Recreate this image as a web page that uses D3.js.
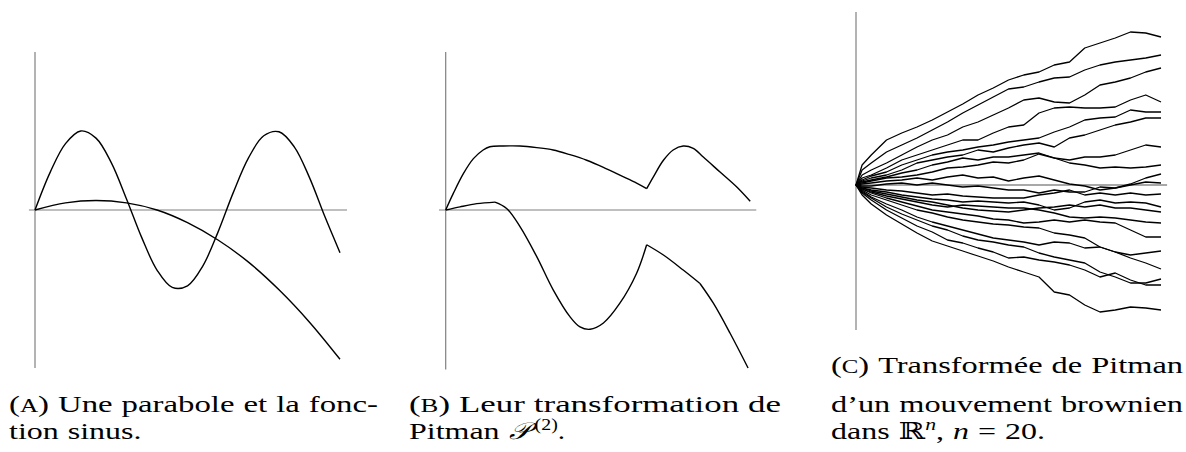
<!DOCTYPE html>
<html lang="fr">
<head>
<meta charset="UTF-8">
<title>Transformation de Pitman</title>
<script src="https://d3js.org/d3.v7.min.js"></script>
<style>
    body { margin: 0; background: #fff; }
    svg { display: block; }
    .axis-line { stroke: #808080; stroke-width: 1.2px; }
    .axis-light { stroke: #a8a8a8; stroke-width: 2px; }
    .curve { fill: none; stroke: #000; stroke-width: 1.4px; stroke-linejoin: round; }
    .bm { fill: none; stroke: #000; stroke-width: 1.3px; stroke-linejoin: round; }
    .caption { font-family: "Liberation Serif", "DejaVu Serif", serif; font-size: 23.5px; fill: #000; }
</style>
</head>
<body>
<svg id="fig" width="1186" height="452"></svg>
<script>
    // (A) sine and parabola
    const sineT = [0, 0.5, 1, 1.5, 2, 2.5, 3, 3.5, 4, 4.5, 5, 5.5, 6, 6.5, 7, 7.5, 8, 8.5, 9, 9.5, 10];
    const sineV = [0, 0.48, 0.84, 1.0, 0.91, 0.6, 0.14, -0.35, -0.76, -0.98, -0.96, -0.71, -0.28, 0.22, 0.66, 0.94, 0.99, 0.8, 0.41, -0.08, -0.54];
    const parabT = [0, 1, 2, 3, 4, 5, 6, 7, 8, 9, 10];
    const parabV = [0, 0.09, 0.12, 0.09, 0, -0.16, -0.38, -0.66, -1.01, -1.42, -1.89];

    // (B) Pitman transform of the two curves
    const upperT = [0, 0.25, 0.58, 0.91, 1.23, 1.45, 1.89, 2.44, 2.99, 3.53, 4.08, 4.63, 5.18, 5.72, 6.27, 6.6,
                    6.82, 7.15, 7.47, 7.8, 8.13, 8.46, 9.01, 9.56, 10];
    const upperV = [0, 0.21, 0.46, 0.65, 0.76, 0.8, 0.81, 0.81, 0.79, 0.76, 0.7, 0.63, 0.54, 0.44, 0.34, 0.27,
                    0.42, 0.63, 0.76, 0.81, 0.78, 0.67, 0.48, 0.29, 0.11];
    const upperKinks = [6.6];
    const lowerT = [0, 0.47, 1.02, 1.62, 2.0, 2.44, 2.99, 3.53, 4.08, 4.41, 4.74, 5.18, 5.72, 6.27, 6.6,
                    7.15, 7.8, 8.35, 8.79, 9.34, 9.93];
    const lowerV = [0, 0.04, 0.08, 0.1, 0.02, -0.21, -0.59, -1.01, -1.35, -1.48, -1.51, -1.43, -1.18, -0.8, -0.44,
                    -0.57, -0.76, -0.93, -1.18, -1.56, -2.0];
    const lowerKinks = [1.62, 6.6, 8.35];

    // (C) 20 paths, sampled at brownT
    const brownT = [0, 0.02, 0.05, 0.1, 0.15, 0.2, 0.25, 0.3, 0.35, 0.4, 0.45, 0.5, 0.55, 0.6, 0.65, 0.7, 0.75, 0.8, 0.85, 0.9, 0.95, 1];
    const brownPaths = [
        [0, .20, .30, .45, .52, .58, .65, .73, .81, .90, .97, 1.05, 1.10, 1.13, 1.20, 1.23, 1.37, 1.42, 1.47, 1.53, 1.52, 1.48],
        [0, .15, .22, .33, .40, .47, .55, .63, .72, .80, .88, .96, .98, 1.03, 1.07, 1.08, 1.15, 1.20, 1.23, 1.25, 1.27, 1.30],
        [0, .10, .15, .22, .30, .38, .45, .50, .58, .63, .70, .77, .85, .87, .83, .82, .90, 1.00, 1.03, 1.07, 1.13, 1.17],
        [0, .07, .10, .17, .25, .30, .35, .40, .45, .45, .52, .58, .60, .72, .77, .78, .77, .77, .78, .85, .90, .83],
        [0, .05, .09, .13, .20, .25, .30, .33, .35, .38, .40, .43, .45, .47, .53, .58, .65, .67, .68, .75, .73, .73],
        [0, .04, .07, .10, .15, .22, .25, .28, .30, .35, .33, .37, .40, .42, .38, .47, .50, .55, .60, .63, .67, .67],
        [0, .03, .05, .08, .12, .15, .20, .23, .27, .25, .28, .28, .30, .32, .27, .25, .28, .28, .30, .35, .40, .38],
        [0, .02, .04, .07, .08, .10, .13, .17, .18, .20, .23, .22, .25, .31, .27, .22, .20, .17, .18, .17, .18, .20],
        [0, .01, .02, .04, .05, .07, .05, .08, .10, .07, .08, .04, .07, .09, .05, .01, -.01, -.05, -.03, .01, .07, .11],
        [0, -.01, -.01, .01, .02, 0, .02, 0, -.02, -.01, -.03, -.05, -.05, -.08, -.05, -.07, -.07, -.02, -.03, 0, .03, .02],
        [0, -.02, -.03, -.05, -.06, -.08, -.10, -.09, -.11, -.12, -.13, -.13, -.13, -.10, -.08, -.05, -.10, -.08, -.10, -.08, -.10, -.09],
        [0, -.03, -.05, -.07, -.10, -.12, -.14, -.15, -.17, -.16, -.17, -.18, -.17, -.20, -.25, -.23, -.17, -.15, -.18, -.17, -.18, -.22],
        [0, -.03, -.06, -.09, -.12, -.15, -.17, -.20, -.23, -.25, -.26, -.27, -.25, -.23, -.22, -.20, -.22, -.20, -.23, -.23, -.25, -.27],
        [0, -.04, -.07, -.11, -.14, -.17, -.20, -.22, -.20, -.21, -.22, -.23, -.23, -.25, -.28, -.32, -.33, -.32, -.33, -.35, -.37, -.38],
        [0, -.04, -.08, -.13, -.17, -.21, -.25, -.27, -.29, -.31, -.34, -.35, -.38, -.37, -.35, -.37, -.35, -.37, -.38, -.45, -.52, -.52],
        [0, -.05, -.10, -.15, -.20, -.25, -.28, -.32, -.35, -.37, -.39, -.40, -.42, -.43, -.48, -.50, -.53, -.62, -.67, -.70, -.68, -.66],
        [0, -.06, -.12, -.19, -.25, -.32, -.37, -.41, -.45, -.49, -.53, -.55, -.57, -.60, -.57, -.58, -.63, -.62, -.67, -.73, -.78, -.84],
        [0, -.07, -.13, -.22, -.29, -.35, -.41, -.45, -.51, -.55, -.57, -.60, -.62, -.68, -.72, -.75, -.78, -.87, -.92, -.98, -.98, -.94],
        [0, -.08, -.15, -.25, -.33, -.41, -.47, -.55, -.58, -.63, -.67, -.73, -.72, -.75, -.77, -.80, -.85, -.92, -.88, -.95, -1.00, -1.00],
        [0, -.10, -.19, -.30, -.39, -.48, -.56, -.61, -.66, -.71, -.76, -.82, -.87, -.92, -1.07, -1.10, -1.20, -1.27, -1.25, -1.22, -1.23, -1.25]
    ];

    // captions: a word is a string or a list of [text, style] runs
    const captionA = [
        [[["("], ["A", "sc"], [")"]], "Une", "parabole", "et", "la", "fonc-"],
        ["tion", "sinus."]
    ];
    const captionB = [
        [[["("], ["B", "sc"], [")"]], "Leur", "transformation", "de"],
        ["Pitman", [["\u{1D4AB}", "script"], ["(2)", "sup"], ["."]]]
    ];
    const captionC = [
        [[["("], ["C", "sc"], [")"]], "Transformée", "de", "Pitman"],
        ["d’un", "mouvement", "brownien"],
        ["dans", [["ℝ"], ["n", "itsup"], [","]], [["n", "it"]], "=", "20."]
    ];

    const svg = d3.select("#fig");

    // scales
    const xA = d3.scaleLinear().domain([0, 10]).range([35, 340]);
    const xB = d3.scaleLinear().domain([0, 10]).range([445.7, 750.2]);
    const yAB = d3.scaleLinear().domain([-2, 2]).range([368, 52]);
    const xC = d3.scaleLinear().domain([0, 1]).range([856, 1161]);
    const yC = d3.scaleLinear().domain([-1.45, 1.73]).range([330, 12]);

    function axes(x, y, xMin, xMax, yMin, yMax, hClass) {
        svg.append("line").attr("class", "axis-line")
            .attr("x1", x(0)).attr("x2", x(0)).attr("y1", y(yMax)).attr("y2", y(yMin));
        svg.append("line").attr("class", hClass)
            .attr("x1", x(xMin)).attr("x2", x(xMax)).attr("y1", y(0)).attr("y2", y(0));
    }
    axes(xA, yAB, -0.2, 10.23, -2, 2, "axis-line");
    axes(xB, yAB, -0.22, 10.2, -2.02, 2, "axis-line");
    axes(xC, yC, -0.003, 1.02, -1.45, 1.73, "axis-light");

    // split a curve into smooth pieces at its corners
    function pieces(ts, vs, kinks) {
        const segs = [];
        let cur = [];
        ts.forEach((t, i) => {
            cur.push([t, vs[i]]);
            if (kinks.includes(t) && cur.length > 1) {
                segs.push(cur);
                cur = [[t, vs[i]]];
            }
        });
        if (cur.length > 1) segs.push(cur);
        return segs;
    }

    function smoothLine(x, y) {
        return d3.line().x(d => x(d[0])).y(d => y(d[1])).curve(d3.curveCatmullRom.alpha(0.5));
    }

    const lineA = smoothLine(xA, yAB);
    svg.append("path").attr("class", "curve").attr("d", lineA(pieces(sineT, sineV, [])[0]));
    svg.append("path").attr("class", "curve").attr("d", lineA(pieces(parabT, parabV, [])[0]));

    const lineB = smoothLine(xB, yAB);
    pieces(upperT, upperV, upperKinks).concat(pieces(lowerT, lowerV, lowerKinks)).forEach(seg => {
        svg.append("path").attr("class", "curve").attr("d", lineB(seg));
    });

    const lineC = d3.line().x((d, i) => xC(brownT[i])).y(d => yC(d));
    svg.selectAll(".bm").data(brownPaths).enter().append("path")
        .attr("class", "bm")
        .attr("d", d => lineC(d));

    // justified captions; the reference face is wider than Liberation Serif,
    // so each word is widened a little (per line for justified lines)
    const GAP = 9;
    const LAST_STRETCH = 1.36;
    function drawCaption(lines, x0, x1, baselines) {
        lines.forEach((words, li) => {
            const justify = li < lines.length - 1;
            const nodes = words.map(w => {
                const runs = typeof w === "string" ? [[w]] : w;
                const t = svg.append("text").attr("class", "caption").attr("y", baselines[li]);
                let shifted = 0;
                runs.forEach(([txt, st]) => {
                    const sp = t.append("tspan").text(txt);
                    let up = 0;
                    if (st === "sc") sp.style("font-size", "18px");
                    if (st === "it" || st === "itsup") sp.style("font-style", "italic");
                    if (st === "script") sp.style("font-family", "'DejaVu Serif', 'DejaVu Sans', serif").style("font-style", "italic");
                    if (st === "sup" || st === "itsup") { sp.style("font-size", "16px"); up = 9; }
                    if (st === "sup") sp.attr("dx", 4);
                    if (up !== shifted) { sp.attr("dy", shifted - up); shifted = up; }
                });
                return { t: t, w: t.node().getComputedTextLength() };
            });
            const natural = d3.sum(nodes, n => n.w);
            const k = justify ? (x1 - x0 - GAP * (nodes.length - 1)) / natural : LAST_STRETCH;
            let x = x0;
            nodes.forEach(n => {
                const w = n.w * k;
                n.t.attr("textLength", w).attr("lengthAdjust", "spacingAndGlyphs").attr("x", x);
                x += w + GAP;
            });
        });
    }

    drawCaption(captionA, 9, 378, [412, 439]);
    drawCaption(captionB, 409, 781, [412, 439]);
    drawCaption(captionC, 831, 1183, [373, 412, 439]);
</script>
</body>
</html>
